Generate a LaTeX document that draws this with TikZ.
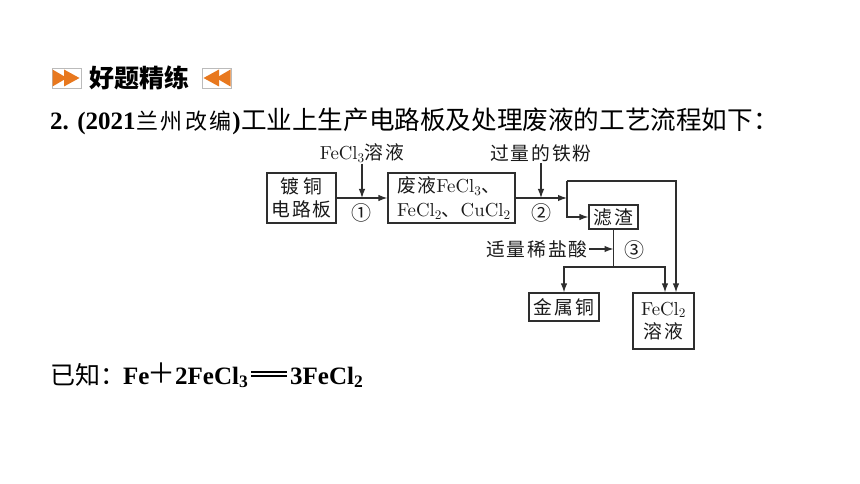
\documentclass[tikz,border=0pt]{standalone}
\usepackage{fontspec}
\setmainfont{lmroman10-regular.otf}
\newfontfamily\cjk{Noto Sans CJK SC}
\newfontfamily\cjkd[LetterSpace=10]{Noto Sans CJK SC}
\newfontfamily\cjkt[LetterSpace=12]{Noto Sans CJK SC}
\newfontfamily\tms{Liberation Serif}
\usetikzlibrary{arrows.meta}
\definecolor{linec}{HTML}{2E2E2E}
\definecolor{txtc}{HTML}{1A1A1A}
\definecolor{orng}{HTML}{E8781E}
\definecolor{icongray}{HTML}{BBBBBB}
\tikzset{
  plain/.style={inner sep=0pt, anchor=base west},
  boxn/.style={draw=linec, line width=1.2pt, inner sep=0pt, text=txtc, align=center,
    font=\fontsize{18.8}{23.5}\selectfont},
  lbl/.style={inner sep=0pt, text=txtc, font=\fontsize{18.8}{23}\selectfont},
  circ/.style={inner sep=0pt, text=txtc, font=\cjk\fontsize{20}{22}\selectfont},
  conn/.style={draw=linec, line width=1.2pt},
  arr/.style={conn, -{Latex[length=9pt,width=6.5pt]}},
  eqf/.style={plain, font=\tms\bfseries\fontsize{25}{30}\selectfont},
}
\begin{document}
\begin{tikzpicture}[x=1pt,y=-1pt]
\useasboundingbox[fill=white] (0,0) rectangle (860,484);

% header icons
\draw[icongray, line width=0.8pt, fill=white] (52,68) rectangle (81,88);
\fill[orng] (52.5,69.5) -- (67,78) -- (52.5,86.5) -- cycle;
\fill[orng] (64,69.5) -- (79.5,78) -- (64,86.5) -- cycle;
\draw[icongray, line width=0.8pt, fill=white] (202,68) rectangle (231,88);
\fill[orng] (230.5,69.5) -- (216,78) -- (230.5,86.5) -- cycle;
\fill[orng] (219,69.5) -- (203.5,78) -- (219,86.5) -- cycle;
\node[plain, font=\cjk\bfseries\fontsize{25}{30}\selectfont] (hd) at (89,88) {好题精练};

% question line
\node[eqf] (t1) at (50,130) {2. (2021};
\node[plain, font=\cjkt\fontsize{22}{30}\selectfont] (t2) at (t1.base east) {兰州改编};
\node[eqf] (t3) at (t2.base east) {)};
\node[plain, font=\cjk\fontsize{25.6}{30}\selectfont] (t4) at (t3.base east) {工业上生产电路板及处理废液的工艺流程如下：};

% known equation
\node[plain, font=\cjk\fontsize{25}{30}\selectfont] (e1) at (50,384) {已知：};
\node[eqf] (e2) at (123,384) {Fe};
\node[inner sep=0pt, font=\cjk\fontsize{28}{30}\selectfont] (e3) at (161,373) {＋};
\node[eqf] (e4) at (175,384) {2FeCl\textsubscript{3}};
\node[plain] (e5) at (251,384) {\rlap{\rule[11.5pt]{36pt}{1.5pt}}\rule[7.2pt]{36pt}{1.5pt}};
\node[eqf] (e6) at (290,384) {3FeCl\textsubscript{2}};

% flow diagram boxes
\node[boxn, minimum width=69pt, minimum height=50pt] (b1) at (301.5,198)
  {{\cjkd 镀\hspace{4pt}铜}\\{\cjkd 电路板}};
\node[boxn, minimum width=127pt, minimum height=50pt, align=left, text width=115pt] (b2) at (451.5,198)
  {\hspace*{3pt}{\cjkd 废液}FeCl\textsubscript{3}{\cjk 、}\\\hspace*{3pt}FeCl\textsubscript{2}{\cjk 、}CuCl\textsubscript{2}};
\node[boxn, minimum width=49pt, minimum height=24pt] (zz) at (613.5,217) {\cjkd 滤渣};
\node[boxn, minimum width=70pt, minimum height=28pt] (cu) at (564,307) {\cjkd 金属铜};
\node[boxn, minimum width=61pt, minimum height=56pt] (fe) at (663.5,321)
  {FeCl\textsubscript{2}\\{\cjkd 溶液}};

% labels
\node[lbl] (l1) at (362,153) {FeCl\textsubscript{3}{\cjkd 溶液}};
\node[lbl] (l2) at (541,153) {\cjkd 过量的铁粉};
\node[lbl, anchor=east] (l3) at (588,249) {\cjkd 适量稀盐酸};
\node[circ] (c1) at (361,213) {①};
\node[circ] (c2) at (541,213) {②};
\node[circ] (c3) at (634,250) {③};

% junctions
\coordinate (j0) at (567,181);
\coordinate (j1) at (567,198);
\coordinate (j2) at (613.5,267);

% connectors
\draw[arr] (b1) -- (b2);
\draw[arr] ([yshift=-1pt]l1.south) -- (l1.south |- b1.east);
\draw[arr] (b2) -- (j1);
\draw[arr] ([yshift=-1pt]l2.south) -- (l2.south |- j1);
\draw[arr] (j0) |- (zz.west);
\draw[arr] (j0) -| ([xshift=12.5pt]fe.north);
\draw[conn] (zz.south) -- (j2);
\draw[arr] (l3.east) ++(1pt,0) -- (l3.east -| zz.south);
\draw[arr] (j2) -| (cu.north);
\draw[arr] (j2) -| ([xshift=1.5pt]fe.north);
\end{tikzpicture}
\end{document}
